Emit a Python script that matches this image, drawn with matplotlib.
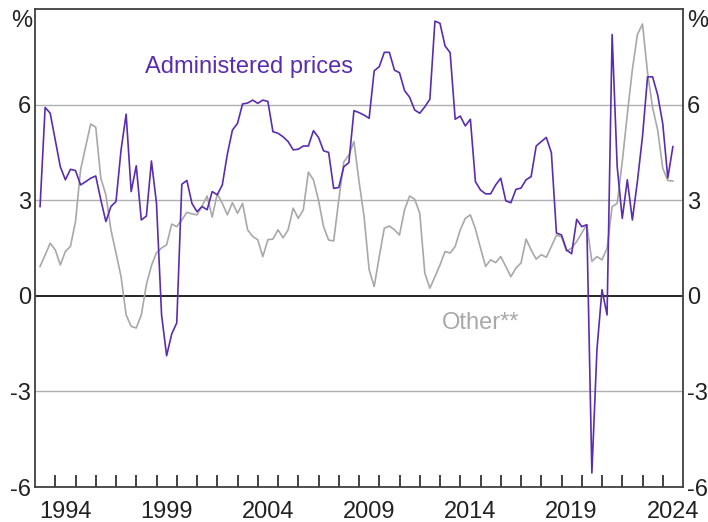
import matplotlib
matplotlib.use("Agg")
import matplotlib.pyplot as plt
import numpy as np
from matplotlib.ticker import FixedLocator, NullFormatter

plt.rcParams['font.family'] = ['Liberation Sans', 'DejaVu Sans']

# Quarterly year-ended growth, 1993 Q1 .. 2024 Q2
start_year = 1993.25
quarter_step = 0.25

administered = [
    2.80, 5.91, 5.73, 4.89, 4.05, 3.64, 3.97, 3.93, 3.48, 3.58,
    3.69, 3.76, 3.01, 2.33, 2.80, 2.96, 4.58, 5.70, 3.27, 4.08,
    2.38, 2.50, 4.23, 2.90, -0.60, -1.88, -1.20, -0.85, 3.50, 3.62,
    2.90, 2.64, 2.80, 2.70, 3.27, 3.17, 3.48, 4.45, 5.20, 5.41,
    6.02, 6.05, 6.14, 6.04, 6.14, 6.10, 5.15, 5.10, 4.99, 4.84,
    4.58, 4.60, 4.70, 4.70, 5.18, 4.97, 4.55, 4.50, 3.37, 3.40,
    4.05, 4.18, 5.81, 5.75, 5.67, 5.57, 7.06, 7.19, 7.64, 7.64,
    7.08, 7.00, 6.44, 6.23, 5.83, 5.73, 5.93, 6.17, 8.62, 8.55,
    7.84, 7.63, 5.54, 5.64, 5.33, 5.54, 3.58, 3.32, 3.20, 3.20,
    3.48, 3.69, 2.98, 2.92, 3.34, 3.38, 3.64, 3.74, 4.70, 4.84,
    4.97, 4.49, 1.97, 1.91, 1.44, 1.32, 2.40, 2.17, 2.23, -5.56,
    -1.69, 0.19, -0.60, 8.20, 4.05, 2.43, 3.64, 2.38, 3.60, 5.00,
    6.87, 6.87, 6.30, 5.40, 3.70, 4.68,
]

other = [
    0.92, 1.28, 1.65, 1.44, 0.97, 1.39, 1.55, 2.33, 3.95, 4.68,
    5.39, 5.29, 3.69, 3.17, 2.07, 1.34, 0.60, -0.60, -0.96, -1.01,
    -0.60, 0.35, 0.95, 1.35, 1.50, 1.60, 2.25, 2.17, 2.38, 2.62,
    2.57, 2.54, 2.82, 3.13, 2.47, 3.20, 2.90, 2.54, 2.92, 2.59,
    2.90, 2.07, 1.86, 1.76, 1.23, 1.76, 1.78, 2.07, 1.82, 2.07,
    2.75, 2.43, 2.70, 3.88, 3.64, 3.00, 2.17, 1.75, 1.72, 3.00,
    4.20, 4.42, 4.84, 3.60, 2.49, 0.82, 0.29, 1.23, 2.12, 2.19,
    2.07, 1.91, 2.70, 3.13, 3.03, 2.59, 0.71, 0.24, 0.60, 0.97,
    1.39, 1.34, 1.55, 2.07, 2.43, 2.54, 2.10, 1.50, 0.92, 1.13,
    1.04, 1.23, 0.92, 0.60, 0.87, 1.03, 1.78, 1.44, 1.15, 1.29,
    1.21, 1.55, 1.90, 1.85, 1.40, 1.50, 1.70, 1.97, 2.23, 1.08,
    1.23, 1.13, 1.49, 2.80, 2.90, 4.20, 5.70, 7.10, 8.20, 8.53,
    7.00, 5.90, 5.20, 4.00, 3.62, 3.60,
]

year_labels = ['1994', '1999', '2004', '2009', '2014', '2019', '2024']
y_ticks = [-6, -3, 0, 3, 6]
y_labels = ['-6', '-3', '0', '3', '6']

purple = '#5a2db0'
grey = '#a8a8a8'
textc = '#222222'

x = start_year + quarter_step * np.arange(len(administered))

fig = plt.figure(figsize=(7.08, 5.22), dpi=100)
ax = fig.add_axes([35 / 708, 1 - 487 / 522, (683 - 35) / 708, (487 - 9) / 522])
ax.set_xlim(1993, 2025)
ax.set_ylim(-6, 9)

for g in (6, 3, -3):
    ax.axhline(g, color='#b0b0b0', lw=1.0, zorder=1)
ax.axhline(0, color='black', lw=1.2, zorder=1)

ax.plot(x, other, color=grey, lw=1.2, zorder=2)
ax.plot(x, administered, color=purple, lw=1.2, zorder=3)

# x ticks: marks at year boundaries, labels mid-year
ax.xaxis.set_major_locator(FixedLocator(np.arange(1994, 2025)))
ax.xaxis.set_major_formatter(NullFormatter())
ax.xaxis.set_minor_locator(FixedLocator([int(y) + 0.5 for y in year_labels]))
ax.set_xticklabels(year_labels, minor=True)
ax.tick_params(axis='x', which='major', direction='in', length=9, width=1.2,
               color='#222222', bottom=True, top=False)
ax.tick_params(axis='x', which='minor', length=0, pad=10, labelsize=17,
               labelcolor=textc)

ax.set_yticks(y_ticks)
ax.set_yticklabels(y_labels)
ax.tick_params(axis='y', length=0, labelsize=17, labelcolor=textc,
               left=False, right=False, labelleft=True, labelright=True, pad=3)

for s in ax.spines.values():
    s.set_color('#404040')
    s.set_linewidth(1.3)

ax.text(-0.005, 0.975, '%', transform=ax.transAxes, ha='right', va='center',
        fontsize=17, color=textc)
ax.text(1.007, 0.975, '%', transform=ax.transAxes, ha='left', va='center',
        fontsize=17, color=textc)

ax.text(2003.55, 7.0, 'Administered prices', color=purple, fontsize=17,
        ha='center', va='baseline')
ax.text(2014.98, -1.03, 'Other**', color=grey, fontsize=17,
        ha='center', va='baseline')

fig.savefig('out.png', dpi=100)
